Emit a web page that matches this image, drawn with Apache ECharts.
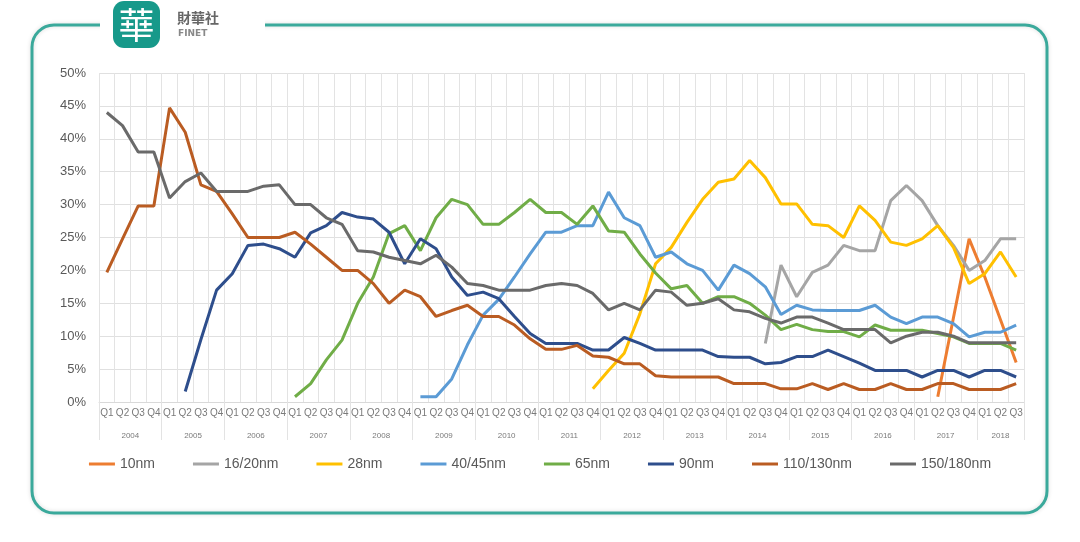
<!DOCTYPE html>
<html>
<head>
<meta charset="utf-8">
<script src="https://cdn.jsdelivr.net/npm/echarts@6/dist/echarts.min.js"></script>
<style>
html,body{margin:0;padding:0;background:#fff;}
#c{width:1080px;height:542px;}
</style>
</head>
<body>
<div id="c"></div>
<script>
// ---- data ----
var years = ['2004','2005','2006','2007','2008','2009','2010','2011','2012','2013','2014','2015','2016','2017','2018'];
var quarters = ['Q1','Q2','Q3','Q4'];
var lastYearQuarters = 3;
var seriesNames = ['10nm','16/20nm','28nm','40/45nm','65nm','90nm','110/130nm','150/180nm'];
function pad(n, arr){ var a=[]; for(var i=0;i<n;i++) a.push(null); return a.concat(arr); }
var s10nm = pad(53, [0.8, 12.8, 24.8, 19, 12.5, 6]);
var s16nm = pad(42, [8.9, 20.8, 16, 19.7, 20.8, 23.8, 23, 23, 30.6, 32.9, 30.6, 26.8, 23.8, 20, 21.5, 24.8, 24.8]);
var s28nm = pad(31, [2, 4.8, 7.4, 13.4, 21, 23.5, 27.3, 30.8, 33.4, 33.9, 36.7, 34.1, 30.1, 30.1, 27, 26.8, 25, 29.8, 27.6, 24.3, 23.8, 24.8, 26.8, 23.5, 18, 19.5, 22.8, 19]);
var s40nm = pad(20, [0.8, 0.8, 3.5, 8.7, 13.2, 15.6, 19, 22.5, 25.8, 25.8, 26.8, 26.8, 31.9, 28, 26.8, 22, 22.8, 21, 20, 17, 20.8, 19.5, 17.5, 13.3, 14.7, 14, 13.9, 13.9, 13.9, 14.7, 12.9, 11.9, 12.9, 12.9, 11.9, 9.9, 10.6, 10.6, 11.7]);
var s65nm = pad(12, [0.8, 2.8, 6.4, 9.4, 15, 19, 25.6, 26.8, 23, 28, 30.8, 30, 27, 27, 28.8, 30.8, 28.8, 28.8, 27, 29.8, 26, 25.8, 22.5, 19.6, 17.2, 17.7, 15, 16, 16, 15, 13.2, 11, 11.8, 11, 10.7, 10.7, 9.9, 11.7, 10.9, 10.9, 10.9, 10.4, 9.9, 8.9, 8.9, 8.9, 7.9]);
var s90nm = pad(5, [1.6, 9.5, 17, 19.5, 23.8, 24, 23.3, 22, 25.7, 26.8, 28.8, 28.1, 27.8, 25.8, 21, 24.8, 23.3, 19, 16.2, 16.7, 15.7, 13, 10.4, 8.9, 8.9, 8.9, 7.9, 7.9, 9.8, 8.9, 7.9, 7.9, 7.9, 7.9, 6.9, 6.8, 6.8, 5.8, 6, 6.9, 6.9, 7.9, 6.9, 5.9, 4.8, 4.8, 4.8, 3.8, 4.8, 4.8, 3.8, 4.8, 4.8, 3.8]);
var s110nm = [19.7, 24.8, 29.8, 29.8, 44.7, 41, 33, 32, 28.6, 25, 25, 25, 25.8, 24, 22, 20, 20, 18, 15, 17, 16, 13, 13.9, 14.7, 13, 13, 11.7, 9.6, 8, 8, 8.6, 7, 6.8, 5.8, 5.8, 4, 3.8, 3.8, 3.8, 3.8, 2.8, 2.8, 2.8, 2, 2, 2.8, 1.9, 2.8, 1.9, 1.9, 2.8, 1.9, 1.9, 2.8, 2.8, 1.9, 1.9, 1.9, 2.8];
var s150nm = [44, 42, 38, 38, 31, 33.5, 34.8, 32, 32, 32, 32.8, 33, 30, 30, 28, 27, 23, 22.8, 22, 21.5, 21, 22.3, 20.5, 18, 17.7, 17, 17, 17, 17.7, 18, 17.7, 16.5, 14, 15, 14, 17, 16.7, 14.7, 15, 15.7, 14, 13.7, 12.7, 12, 12.9, 12.9, 12, 11, 11, 11, 9, 10, 10.6, 10.6, 10, 9, 9, 9, 9];
var seriesData = [s10nm, s16nm, s28nm, s40nm, s65nm, s90nm, s110nm, s150nm];
var colors = ['#ED7D31','#A5A5A5','#FFC000','#5B9BD5','#70AD47','#2E4E8C','#BA5C22','#6A6A6A'];

// ---- build categories ----
var qCats = [];
var yearOfSlot = {};   // half-quarter slot index -> year label (center)
var boundarySlots = {};
var slot = 0;
years.forEach(function(y, yi){
  var nq = (yi === years.length - 1) ? lastYearQuarters : quarters.length;
  boundarySlots[slot] = true;
  yearOfSlot[slot + nq] = y;
  for (var q = 0; q < nq; q++){ qCats.push(y + ' ' + quarters[q]); }
  slot += nq * 2;
});
boundarySlots[slot] = true;
var halfCats = [];
for (var k = 0; k <= slot; k++) halfCats.push(String(k));

var font = 'Liberation Sans Narrow, Liberation Sans, sans-serif';
var chart = echarts.init(document.getElementById('c'), null, {renderer:'canvas'});
var option = {
  backgroundColor: '#fff',
  animation: false,
  color: colors,
  grid: { left: 99, right: 56, top: 73, bottom: 140, containLabel: false },
  legend: {
    data: seriesNames,
    bottom: 66,
    left: 'center',
    icon: 'rect',
    itemWidth: 26,
    itemHeight: 3,
    itemGap: 38,
    textStyle: { color: '#595959', fontSize: 14, fontFamily: font }
  },
  xAxis: [{
    type: 'category',
    data: qCats,
    boundaryGap: true,
    axisLine: { show: true, lineStyle: { color: '#d9d9d9' } },
    axisTick: { show: false },
    splitLine: { show: true, interval: 0, lineStyle: { color: '#e3e3e3', width: 1 } },
    axisLabel: {
      interval: 0, margin: 6, color: '#7a7a7a', fontSize: 10, fontFamily: font,
      formatter: function(v){ return v.split(' ')[1]; }
    }
  }, {
    type: 'category',
    data: halfCats,
    boundaryGap: false,
    position: 'bottom',
    axisLine: { show: false },
    axisTick: {
      show: true, length: 38, inside: false,
      interval: function(i){ return !!boundarySlots[i]; },
      lineStyle: { color: '#e3e3e3' }
    },
    splitLine: { show: false },
    axisLabel: {
      interval: function(i){ return !!yearOfSlot[i]; },
      margin: 30, color: '#7a7a7a', fontSize: 8, fontFamily: font,
      formatter: function(v){ return yearOfSlot[+v] || ''; }
    }
  }],
  yAxis: {
    type: 'value',
    min: 0, max: 50, interval: 5,
    axisLine: { show: false },
    axisTick: { show: false },
    splitLine: { lineStyle: { color: '#e0e0e0' } },
    axisLabel: { formatter: '{value}%', color: '#595959', fontSize: 13, fontFamily: font, margin: 13 }
  },
  series: seriesNames.map(function(n, i){
    return {
      name: n, type: 'line', xAxisIndex: 0, data: seriesData[i],
      showSymbol: false, symbol: 'none', smooth: false, connectNulls: false,
      lineStyle: { width: 3, color: colors[i] },
      itemStyle: { color: colors[i] }
    };
  }),
  graphic: [
    { type: 'rect', z: -10, shape: { x: 32, y: 25, width: 1015, height: 488, r: 22 },
      style: { fill: 'none', stroke: '#3AA99B', lineWidth: 3, shadowBlur: 4, shadowColor: 'rgba(0,0,0,0.15)' } },
    { type: 'rect', z: -9, shape: { x: 100, y: 15, width: 165, height: 20 }, style: { fill: '#fff' } },
    { type: 'rect', z: 10, shape: { x: 113, y: 1, width: 47, height: 47, r: 11 }, style: { fill: '#17998A' } },
    { type: 'text', z: 11, style: { x: 136.5, y: 25, text: '華', fill: '#fff', fontSize: 36, fontFamily: 'Noto Sans CJK TC', align: 'center', verticalAlign: 'middle' } },
    { type: 'text', z: 11, style: { x: 177, y: 18, text: '財華社', fill: '#666', fontSize: 14, fontWeight: 'bold', fontFamily: 'Noto Sans CJK TC', verticalAlign: 'middle' } },
    { type: 'text', z: 11, style: { x: 178, y: 34, text: 'FINET', fill: '#888', fontSize: 9, fontWeight: 'bold', fontFamily: 'DejaVu Sans', verticalAlign: 'middle' } }
  ]
};
chart.setOption(option);
</script>
</body>
</html>
